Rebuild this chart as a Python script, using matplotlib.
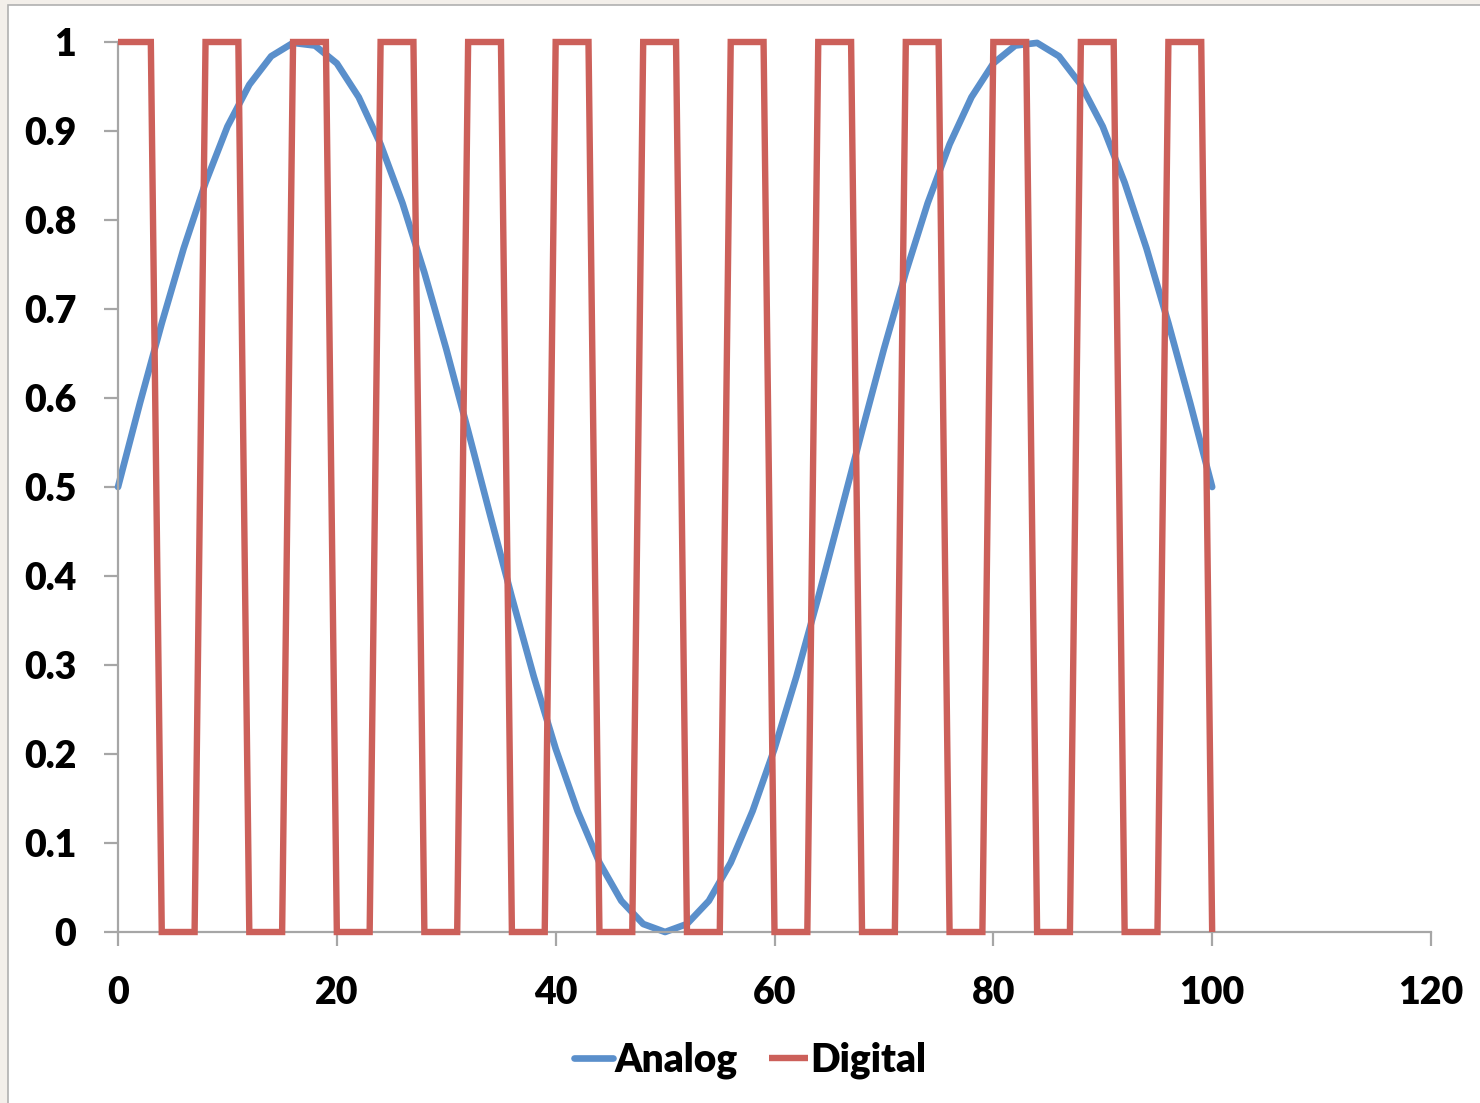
import matplotlib.pyplot as plt
from matplotlib.patches import Rectangle

# Data
analog_x = list(range(0, 101, 2))
analog = [0.5, 0.594, 0.684, 0.768, 0.842, 0.905, 0.952, 0.984, 0.999, 0.996,
          0.976, 0.938, 0.885, 0.819, 0.741, 0.655, 0.563, 0.469, 0.376, 0.287,
          0.206, 0.136, 0.078, 0.035, 0.009, 0.0, 0.009, 0.035, 0.078, 0.136,
          0.206, 0.287, 0.376, 0.469, 0.563, 0.655, 0.741, 0.819, 0.885, 0.938,
          0.976, 0.996, 0.999, 0.984, 0.952, 0.905, 0.842, 0.768, 0.684, 0.594,
          0.5]
digital_x = list(range(0, 101))
digital = [1, 1, 1, 1, 0, 0, 0, 0, 1, 1, 1, 1, 0, 0, 0, 0,
           1, 1, 1, 1, 0, 0, 0, 0, 1, 1, 1, 1, 0, 0, 0, 0,
           1, 1, 1, 1, 0, 0, 0, 0, 1, 1, 1, 1, 0, 0, 0, 0,
           1, 1, 1, 1, 0, 0, 0, 0, 1, 1, 1, 1, 0, 0, 0, 0,
           1, 1, 1, 1, 0, 0, 0, 0, 1, 1, 1, 1, 0, 0, 0, 0,
           1, 1, 1, 1, 0, 0, 0, 0, 1, 1, 1, 1, 0, 0, 0, 0,
           1, 1, 1, 1, 0]
x_ticks = [0, 20, 40, 60, 80, 100, 120]
y_ticks = [0, 0.1, 0.2, 0.3, 0.4, 0.5, 0.6, 0.7, 0.8, 0.9, 1]
y_tick_labels = ['0', '0.1', '0.2', '0.3', '0.4', '0.5', '0.6', '0.7', '0.8', '0.9', '1']

blue = '#5A8FCB'
red = '#CC605A'
axis_grey = '#A6A6A6'

plt.rcParams['font.family'] = ['Lato', 'DejaVu Sans']
plt.rcParams['font.weight'] = 'heavy'

fig = plt.figure(figsize=(14.8, 11.03), dpi=100, facecolor='#F3EFEA')
# white chart area with thin grey frame, kept behind the axes
fig.patches.append(Rectangle((8 / 1480, -0.01), 1.02, 1 - 5 / 1103 + 0.01,
                             transform=fig.transFigure, facecolor='white',
                             edgecolor='#B0B0B0', linewidth=1.2, zorder=-5))

ax = fig.add_axes([118 / 1480, 1 - 932 / 1103, (1431 - 118) / 1480, (932 - 42) / 1103])
ax.set_facecolor('none')
ax.set_zorder(2)

l1, = ax.plot(analog_x, analog, color=blue, linewidth=4.8, solid_capstyle='round',
              solid_joinstyle='round', label='Analog', zorder=2, clip_on=False)
l2, = ax.plot(digital_x, digital, color=red, linewidth=4.6, solid_joinstyle='miter',
              solid_capstyle='butt', label='Digital', zorder=3, clip_on=False)

ax.set_xlim(0, 120)
ax.set_ylim(0, 1)
ax.set_xticks(x_ticks)
ax.set_yticks(y_ticks)
ax.set_yticklabels(y_tick_labels)

for s in ['top', 'right']:
    ax.spines[s].set_visible(False)
for s in ['left', 'bottom']:
    ax.spines[s].set_color(axis_grey)
    ax.spines[s].set_linewidth(1.6)
ax.tick_params(axis='both', direction='out', length=10, width=1.6, color=axis_grey,
               labelsize=27, labelcolor='black')
ax.tick_params(axis='y', pad=20)
ax.tick_params(axis='x', pad=22)
for lab in ax.get_xticklabels() + ax.get_yticklabels():
    lab.set_fontweight('heavy')

fig.legend(handles=[l1, l2], loc='center', bbox_to_anchor=(750 / 1480, 1 - 1060 / 1103),
           ncol=2, frameon=False, handlelength=1.0, handletextpad=0.05,
           columnspacing=0.8, prop={'weight': 'heavy', 'size': 28})

fig.savefig('out.png', dpi=100, facecolor=fig.get_facecolor())
